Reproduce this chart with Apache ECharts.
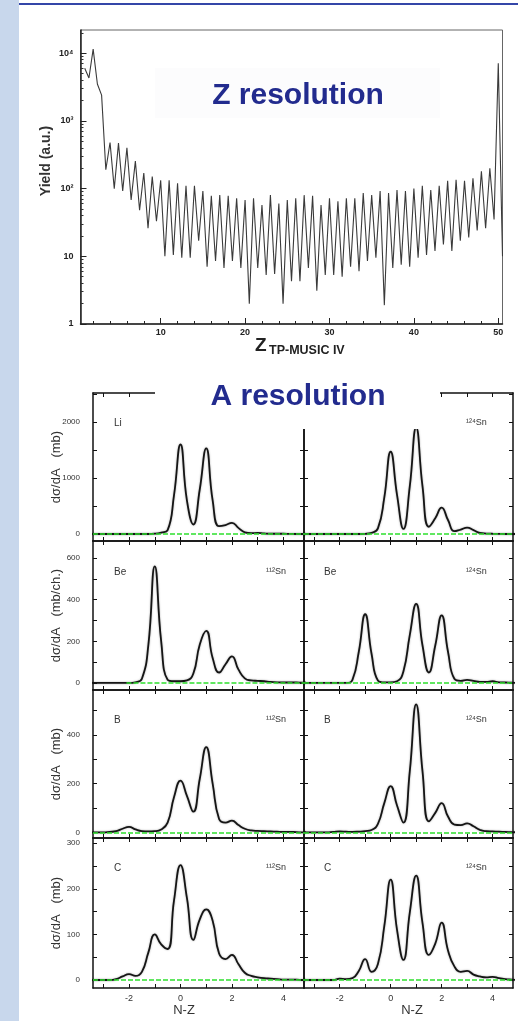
<!DOCTYPE html>
<html><head><meta charset="utf-8">
<script src="https://cdn.jsdelivr.net/npm/echarts@6/dist/echarts.min.js"></script>
<style>html,body{margin:0;padding:0;background:#fff}#c{width:518px;height:1021px}</style>
</head><body><div id="c"></div>
<script>
// ---------------- DATA ----------------
// Top chart: yield vs Z (peaks at integer Z, valleys between)
const zPeakPos = [1,2,3,4,5,6,7,8,9,10,11,12,13,14,15,16,17,18,19,20,21,22,23,24,25,26,27,28,29,30,31,32,33,34,35,36,37,38,39,40,41,42,43,44,45,46,47,48,49,50];
const zPeakYield = [6000,11500,2400,480,470,400,255,170,150,133,133,120,110,110,92,78,80,78,72,68,72,57,80,60,68,72,80,78,57,72,65,72,72,86,80,92,86,95,92,100,110,95,110,130,135,130,142,180,200,7100];
const zValleyPos = [1.5,2.5,3.5,4.5,5.5,6.5,7.5,8.5,9.5,10.5,11.5,12.5,13.5,14.5,15.5,16.5,17.5,18.5,19.5,20.5,21.5,22.5,23.5,24.5,25.5,26.5,27.5,28.5,29.5,30.5,31.5,32.5,33.5,34.5,35.5,36.5,37.5,38.5,39.5,40.5,41.5,42.5,43.5,44.5,45.5,46.5,47.5,48.5,49.5,50.5];
const zValleyYield = [4300,3500,190,100,92,68,48,26,33,10,10.5,9.5,9.5,17,7,8.5,6.7,8.5,6.7,2.0,6.7,5.3,5.5,2.0,4.3,4.3,6.7,3.1,5.3,5.3,5.0,7,6,8.5,9.5,1.9,6.7,7.5,7.0,9.5,10.5,12,15,12,17,19,24,26,35,10];
const zMajorTicks = [10,20,30,40,50];
const zMinorTicks = [2,4,6,8,12,14,16,18,22,24,26,28,32,34,36,38,42,44,46,48];
const yieldMajor = [1,10,100,1000,10000];
const yieldTickLabels = ['1','10','10²','10³','10⁴'];
const yieldMinor = [2,3,4,5,6,7,8,9,20,30,40,50,60,70,80,90,200,300,400,500,600,700,800,900,2000,3000,4000,5000,6000,7000,8000,9000,20000];

// Bottom panels: dσ/dA vs N-Z
const nzPos = [-3.5,-3.25,-3,-2.75,-2.5,-2.25,-2,-1.75,-1.5,-1.25,-1,-0.75,-0.5,-0.25,0,0.25,0.5,0.75,1,1.25,1.5,1.75,2,2.25,2.5,2.75,3,3.25,3.5,3.75,4,4.25,4.5,4.75,5];
const li112 = [0,0,0,0,0,0,0,0,0,0,5,25,70,700,1600,600,170,800,1530,600,140,160,200,110,30,15,20,10,5,5,5,2,0,0,0];
const li124 = [0,0,0,0,0,0,0,0,0,0,3,20,100,650,1470,700,90,850,1900,850,130,280,470,250,50,80,115,70,18,8,5,3,0,0,0];
const be112 = [0,0,0,0,0,0,0,3,20,180,560,200,15,8,8,12,45,185,250,120,50,90,128,65,22,12,10,8,5,3,2,2,2,1,1];
const be124 = [0,0,0,0,0,0,0,0,15,150,330,140,12,3,3,8,55,230,380,180,50,180,325,150,20,10,15,10,5,5,8,3,2,1,0];
const b112 = [0,0,0,2,5,15,23,12,5,4,5,12,40,145,212,150,85,220,350,200,55,40,48,30,15,8,6,5,4,3,2,2,1,0,0];
const b124 = [0,0,0,0,0,2,4,3,2,3,5,10,35,120,190,110,40,250,525,250,45,80,120,65,32,30,37,25,10,5,4,3,2,1,0];
const c112 = [0,0,0,0,2,8,13,9,18,60,100,78,68,175,252,180,88,133,155,130,58,46,55,35,16,9,6,4,3,2,1,1,1,0,0];
const c124 = [0,0,0,0,0,0,3,2,4,20,46,18,35,118,220,110,44,148,229,125,55,80,126,65,30,18,20,12,8,6,7,4,2,1,0];
const nzTicks = [-3,-2,-1,0,1,2,3,4];
const nzLabels = [-2,0,2,4];

// ---------------- BUILD ----------------
const FONT = '"Liberation Sans", Arial, "DejaVu Sans", sans-serif';
const grids = [], xAxes = [], yAxes = [], series = [];

// top chart
grids.push({left:80.5, top:30, width:422, height:294, show:true, borderColor:'#666', borderWidth:1, backgroundColor:'transparent'});
const axLine = (c,w)=>({show:true,onZero:false,lineStyle:{color:c,width:w}});
xAxes.push({gridIndex:0,type:'value',position:'bottom',min:0.5,max:50.5,axisLine:axLine('#222',1.5),splitLine:{show:false},
  axisTick:{inside:true,length:6,customValues:zMajorTicks,lineStyle:{color:'#222'}},
  axisLabel:{customValues:zMajorTicks,fontSize:9,fontWeight:'bold',color:'#222',margin:4,fontFamily:FONT}});
xAxes.push({gridIndex:0,type:'value',position:'bottom',min:0.5,max:50.5,axisLine:{show:false},splitLine:{show:false},
  axisTick:{inside:true,length:3,customValues:zMinorTicks,lineStyle:{color:'#222'}},axisLabel:{show:false}});
yAxes.push({gridIndex:0,type:'log',logBase:10,position:'left',min:1,max:22000,axisLine:axLine('#222',1.5),splitLine:{show:false},
  axisTick:{inside:true,length:6,customValues:yieldMajor,lineStyle:{color:'#222'}},
  axisLabel:{customValues:yieldMajor,fontSize:9,fontWeight:'bold',color:'#222',margin:7,fontFamily:FONT,
    formatter:v=>yieldTickLabels[Math.round(Math.log10(v))]}});
yAxes.push({gridIndex:0,type:'log',logBase:10,position:'left',min:1,max:22000,axisLine:{show:false},splitLine:{show:false},
  axisTick:{inside:true,length:3,customValues:yieldMinor,lineStyle:{color:'#333'}},axisLabel:{show:false}});
const zData = [];
for (let i=0;i<zPeakPos.length;i++){ zData.push([zPeakPos[i],zPeakYield[i]]); zData.push([zValleyPos[i],zValleyYield[i]]); }
series.push({type:'line',xAxisIndex:0,yAxisIndex:0,data:zData,showSymbol:false,lineStyle:{color:'#3a3a3a',width:1.1},z:3});

// bottom panels
const rowTop = [393,541,690,838], rowH = [148,149,148,150];
const colLeft = [93,304], colW = [211,209];
const panels = [
 {row:0,col:0,vals:li112,range:[-125,2520],ticks:[0,500,1000,1500,2000,2500],labels:[0,1000,2000],unit:'dσ/dA   (mb)',green:-3.4},
 {row:0,col:1,vals:li124,range:[-125,2520],ticks:[0,500,1000,1500,2000,2500],green:-3.4},
 {row:1,col:0,vals:be112,range:[-34,682],ticks:[0,100,200,300,400,500,600],labels:[0,200,400,600],unit:'dσ/dA   (mb/ch.)',green:-2.1},
 {row:1,col:1,vals:be124,range:[-34,682],ticks:[0,100,200,300,400,500,600],green:-3.4},
 {row:2,col:0,vals:b112,range:[-23,584],ticks:[0,100,200,300,400,500],labels:[0,200,400],unit:'dσ/dA   (mb)',green:-3.4},
 {row:2,col:1,vals:b124,range:[-23,584],ticks:[0,100,200,300,400,500],green:-3.4},
 {row:3,col:0,vals:c112,range:[-17.5,311.5],ticks:[0,50,100,150,200,250,300],labels:[0,100,200,300],unit:'dσ/dA   (mb)',green:-3.4},
 {row:3,col:1,vals:c124,range:[-17.5,311.5],ticks:[0,50,100,150,200,250,300],green:-3.4}
];
const PL = '#111';
panels.forEach(p=>{
  const gi = grids.length;
  grids.push({left:colLeft[p.col],top:rowTop[p.row],width:colW[p.col],height:rowH[p.row]});
  const xb = xAxes.length;
  const isBottom = p.row===3;
  xAxes.push({gridIndex:gi,type:'value',position:'bottom',min:-3.4,max:4.8,axisLine:axLine(PL,1.5),splitLine:{show:false},
    axisTick:{inside:true,length:4,customValues:nzTicks,lineStyle:{color:PL}},
    axisLabel:isBottom?{customValues:nzLabels,fontSize:9,color:'#333',margin:6,fontFamily:FONT,formatter:v=>String(v)}:{show:false}});
  xAxes.push({gridIndex:gi,type:'value',position:'top',min:-3.4,max:4.8,axisLine:axLine(PL,1.5),splitLine:{show:false},
    axisTick:{inside:true,length:4,customValues:nzTicks,lineStyle:{color:PL}},axisLabel:{show:false}});
  const yl = yAxes.length;
  yAxes.push({gridIndex:gi,type:'value',position:'left',min:p.range[0],max:p.range[1],axisLine:axLine(PL,1.5),splitLine:{show:false},
    axisTick:{inside:true,length:4,customValues:p.ticks,lineStyle:{color:PL}},
    axisLabel:p.labels?{customValues:p.labels,fontSize:8,color:'#333',margin:13,fontFamily:FONT,formatter:v=>String(v)}:{show:false},
    name:p.unit||'',nameLocation:'middle',nameGap:30,nameMoveOverlap:false,nameTextStyle:{fontSize:13,color:'#333',fontFamily:FONT}});
  yAxes.push({gridIndex:gi,type:'value',position:'right',min:p.range[0],max:p.range[1],axisLine:axLine(PL,1.5),splitLine:{show:false},
    axisTick:{inside:true,length:4,customValues:p.ticks,lineStyle:{color:PL}},axisLabel:{show:false}});
  series.push({type:'line',xAxisIndex:xb,yAxisIndex:yl,data:nzPos.map((x,i)=>[x,p.vals[i]]),showSymbol:false,
    smooth:0.5,lineStyle:{color:'#151515',width:1.8,shadowColor:'rgba(0,0,0,0.35)',shadowBlur:2},z:3,
    markLine:{silent:true,symbol:['none','none'],label:{show:false},animation:false,
      lineStyle:{color:'#2ee02e',type:[5,2],width:1.5},data:[[{coord:[p.green,0]},{coord:[4.8,0]}]]}});
});

// ---------------- GRAPHICS ----------------
const txt = (x,y,text,font,fill,align,extra)=>Object.assign({type:'text',x:x,y:y,z:101,
  style:Object.assign({text:text,font:font,fill:fill,textAlign:align||'left',align:align||'left',textVerticalAlign:'middle',verticalAlign:'middle'},extra||{})});
const gfx = [
  {type:'rect',shape:{x:0,y:0,width:19,height:1021},style:{fill:'#c8d7ec'},z:1},
  {type:'rect',shape:{x:19,y:3,width:499,height:2},style:{fill:'#3446a8'},z:1},
  {type:'rect',shape:{x:155,y:68,width:285,height:50},style:{fill:'#fcfcfd'},z:0},
  txt(298,96,'Z resolution','bold 30px '+FONT,'#222b8e','center',{shadowColor:'rgba(70,90,200,0.6)',shadowBlur:2,shadowOffsetX:1,shadowOffsetY:1}),
  {type:'rect',shape:{x:155,y:376,width:285,height:53},style:{fill:'#ffffff'},z:100},
  txt(298,397,'A resolution','bold 30px '+FONT,'#222b8e','center',{shadowColor:'rgba(70,90,200,0.6)',shadowBlur:2,shadowOffsetX:1,shadowOffsetY:1}),
  Object.assign(txt(46,161,'Yield (a.u.)','bold 14px '+FONT,'#333','center'),{rotation:Math.PI/2}),
  txt(255,346,'Z','bold 19px '+FONT,'#222','left'),
  txt(269,351,'TP-MUSIC IV','bold 12.5px '+FONT,'#222','left'),
  txt(184,1010,'N-Z','13px '+FONT,'#333','center'),
  txt(412,1010,'N-Z','13px '+FONT,'#333','center')
];
const elLabels = [['Li','Be','B','C'],['','Be','B','C']];
const snLabels = [['','¹¹²Sn','¹¹²Sn','¹¹²Sn'],['¹²⁴Sn','¹²⁴Sn','¹²⁴Sn','¹²⁴Sn']];
const labelY = [423,572,720,868];
const elX = [114,324], snX = [266,466];
for (let c=0;c<2;c++) for (let r=0;r<4;r++){
  if (elLabels[c][r]) gfx.push(txt(elX[c],labelY[r],elLabels[c][r],'10px '+FONT,'#333','left'));
  if (snLabels[c][r]) gfx.push(txt(snX[c],labelY[r],snLabels[c][r],'9px '+FONT,'#333','left'));
}

const chart = echarts.init(document.getElementById('c'),null,{renderer:'canvas'});
chart.setOption({animation:false,backgroundColor:'#ffffff',grid:grids,xAxis:xAxes,yAxis:yAxes,series:series,graphic:{elements:gfx}});
</script></body></html>
